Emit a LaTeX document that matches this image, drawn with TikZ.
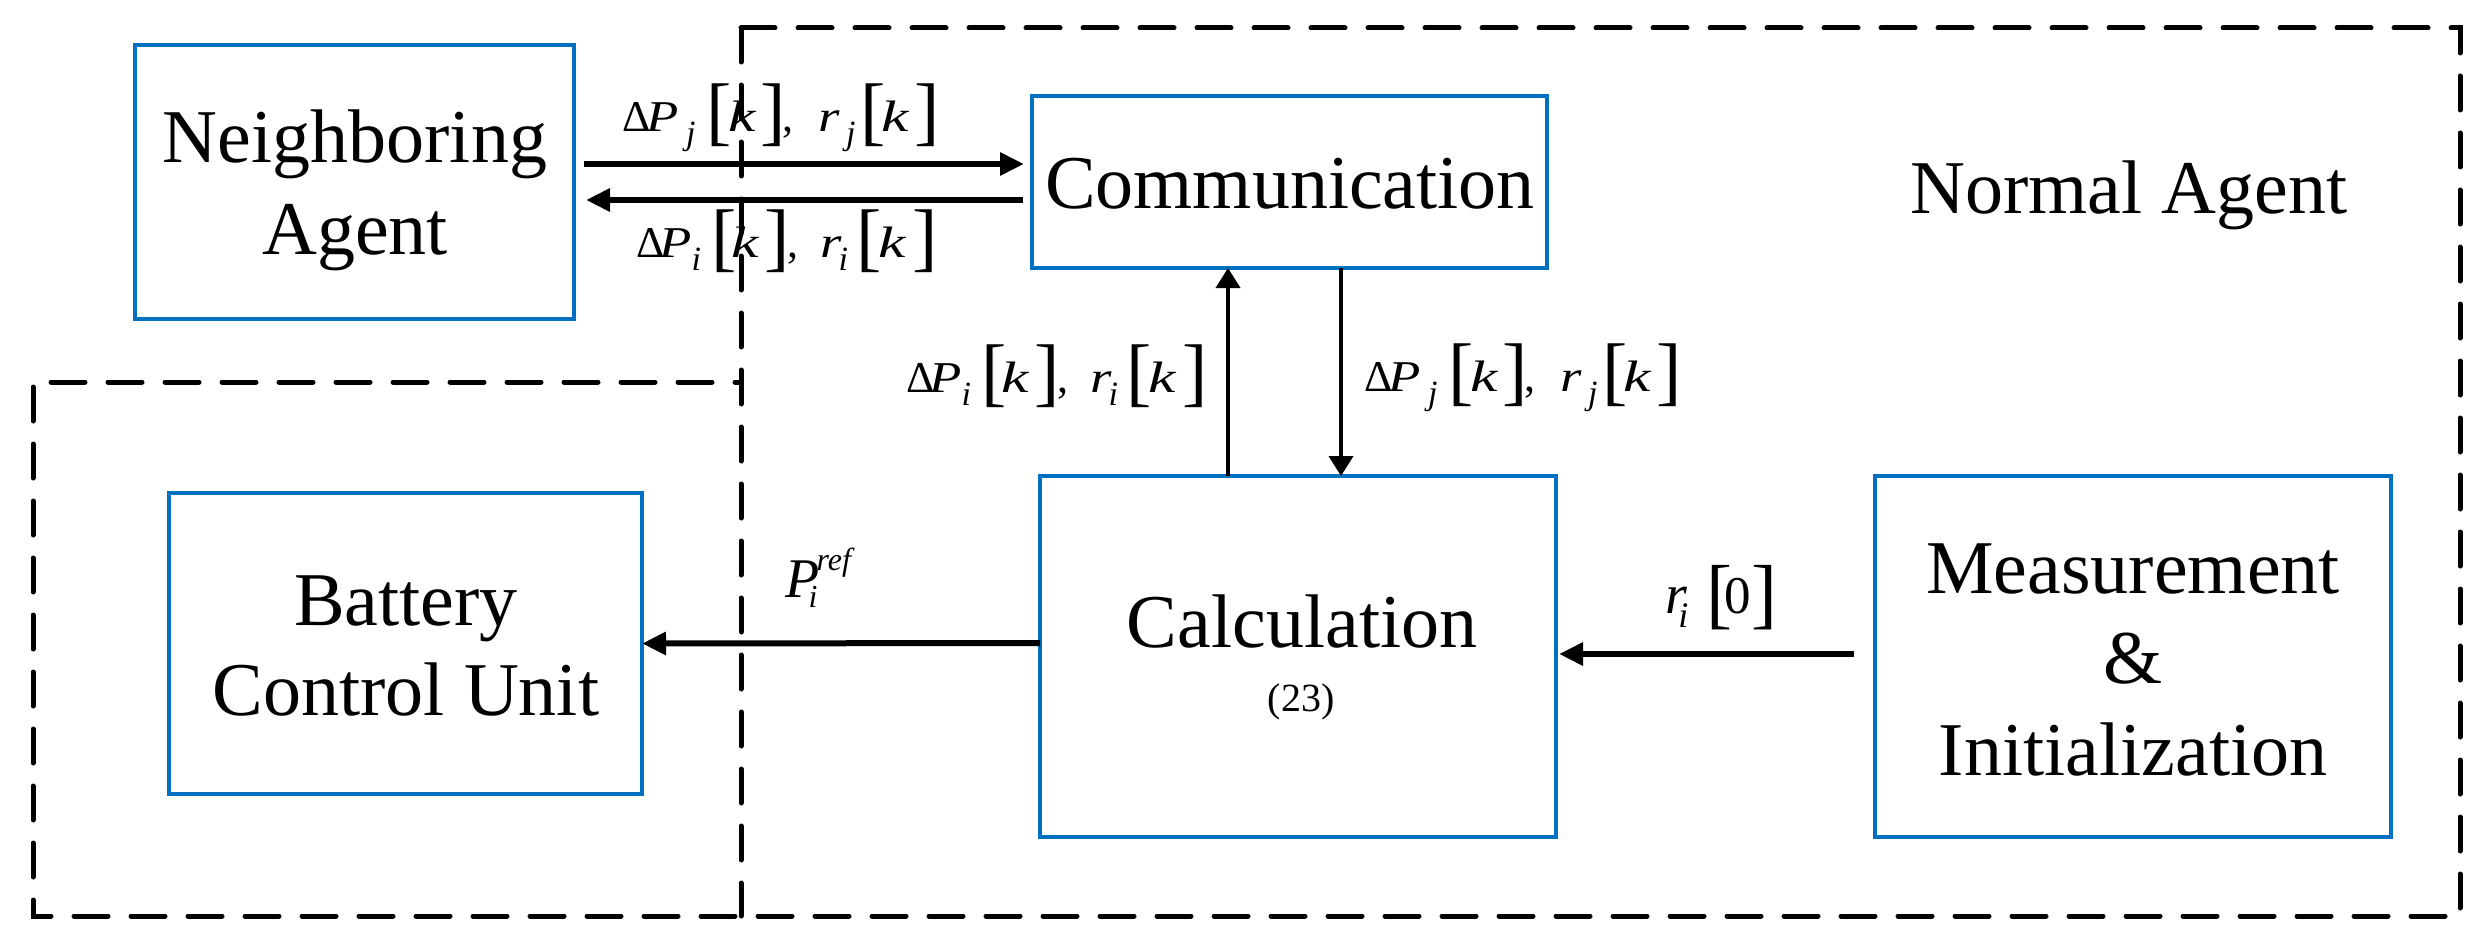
\documentclass[tikz,border=0pt]{standalone}
\usepackage{fontspec}
\setmainfont{Liberation Serif}
\usetikzlibrary{arrows.meta}
\definecolor{boxblue}{RGB}{0,112,192}
\newcommand\at[2]{\rlap{\hspace*{#1pt}#2}}
\newcommand\fm{\fontsize{44}{44}\selectfont}
\newcommand\KK{\scalebox{1.4}[1]{\fontsize{44}{44}\selectfont\itshape k}}
\newcommand\PP{\scalebox{1.2}[1]{\fm\itshape P}}
\newcommand\RR{\scalebox{1.25}[1]{\fm\itshape r}}
\newcommand\fss{\fontsize{34}{34}\selectfont\itshape}
\newcommand\fbr{\fontsize{76}{76}\selectfont}
\newcommand\LB{\raisebox{-5pt}{\fbr[}}
\newcommand\RB{\raisebox{-5pt}{\fbr]}}
\newcommand\SB[1]{\raisebox{-13pt}{\fss #1}}
\newcommand\LabJ{\at{0}{\fm Δ}\at{24}{\PP}\at{64}{\SB{j}}\at{84}{\LB}\at{106}{\KK}\at{138.4}{\RB}\at{160.4}{\fm ,}\at{195.8}{\RR}\at{224}{\SB{j}}\at{238.3}{\LB}\at{259}{\KK}\at{292.4}{\RB}\hspace*{318pt}}
\newcommand\LabI{\at{0}{\fm Δ}\at{23}{\PP}\at{55.3}{\SB{i}}\at{75.3}{\LB}\at{95}{\KK}\at{128.4}{\RB}\at{151.4}{\fm ,}\at{183.8}{\RR}\at{202.3}{\SB{i}}\at{220.3}{\LB}\at{242}{\KK}\at{276.4}{\RB}\hspace*{302pt}}
\newcommand\LabRef{\at{0}{\fontsize{56}{56}\selectfont\itshape P}\at{31.5}{\raisebox{27pt}{\fontsize{32}{32}\selectfont\itshape ref}}\at{23.4}{\raisebox{-10pt}{\fontsize{32}{32}\selectfont\itshape i}}\hspace*{75pt}}
\newcommand\LabR{\at{0}{\fontsize{56}{56}\selectfont\itshape r}\at{12.7}{\raisebox{-14pt}{\fontsize{36}{36}\selectfont\itshape i}}\at{41}{\raisebox{-6.6pt}{\fontsize{78}{78}\selectfont[}}\at{58.5}{\fontsize{53}{53}\selectfont 0}\at{85.5}{\raisebox{-6.6pt}{\fontsize{78}{78}\selectfont]}}\hspace*{112pt}}
\tikzset{
  blockbox/.style={draw=boxblue, line width=4pt, inner sep=0pt, outer sep=0pt},
  boxtext/.style={anchor=base, inner sep=0pt, font=\fontsize{76}{91}\selectfont},
  lbl/.style={anchor=base west, inner sep=0pt},
  dashframe/.style={draw=black, line width=5pt, line cap=round, dash pattern=on 34pt off 23pt},
  harrow/.style={draw=black, line width=6pt, -{Triangle[length=24pt,width=22pt]}},
  varrow/.style={draw=black, line width=4pt, -{Triangle[length=20pt,width=24pt]}}
}
\begin{document}
\begin{tikzpicture}[x=1pt,y=-1pt]
\useasboundingbox (0,0) rectangle (2491,952);
% dashed frames
\draw[dashframe] (741,28) -- (2460,28) -- (2460,916) -- (33,916) -- (33,382) -- (741,382);
\draw[dashframe] (741,28) -- (741,916);
% blocks
\node[blockbox, minimum width=439pt, minimum height=274pt] (nb) at (354.5,182) {};
\node[blockbox, minimum width=515pt, minimum height=172pt] (comm) at (1289.5,182) {};
\node[blockbox, minimum width=516pt, minimum height=361pt] (calc) at (1298,656.5) {};
\node[blockbox, minimum width=516pt, minimum height=361pt] (meas) at (2133,656.5) {};
\node[blockbox, minimum width=473pt, minimum height=301pt] (bcu) at (405.5,643.5) {};
% block texts
\node[boxtext] (nbt1) at (355,163) {Neighboring};
\node[boxtext] (nbt2) at (355,254) {Agent};
\node[boxtext] (commt) at (1290,208) {Communication};
\node[boxtext] (normal) at (2129,213) {Normal Agent};
\node[boxtext] (bcut1) at (406,625) {Battery};
\node[boxtext] (bcut2) at (406,715) {Control Unit};
\node[boxtext] (calct1) at (1302,647) {Calculation};
\node[boxtext, font=\fontsize{40}{48}\selectfont] (calct2) at (1301,711) {(23)};
\node[boxtext] (meast1) at (2133,593) {Measurement};
\node[boxtext] (meast2) at (2133,683) {\&};
\node[boxtext] (meast3) at (2133,775) {Initialization};
% connectors
\draw[harrow] ([shift={(10,-18)}]nb.east) -- ([shift={(-8,-18)}]comm.west);
\draw[harrow] ([shift={(-9,18)}]comm.west) -- ([shift={(12,18)}]nb.east);
\draw[varrow] ([xshift=-70pt]calc.north) -- ([xshift=-61.5pt]comm.south);
\draw[varrow] ([xshift=51.5pt]comm.south) -- ([xshift=43pt]calc.north);
\draw[harrow] ([yshift=13.5pt]calc.west) -- (bcu.east);
\draw[harrow] ([shift={(-21,-2.5)}]meas.west) -- ([shift={(3,-2.5)}]calc.east);
% connector labels
\node[lbl] (l1) at (622,132) {\LabJ};
\node[lbl] (l2) at (636,257) {\LabI};
\node[lbl] (l3) at (906,392) {\LabI};
\node[lbl] (l4) at (1364,391) {\LabJ};
\node[lbl] (l5) at (785,597) {\LabRef};
\node[lbl] (l6) at (1665.5,613) {\LabR};
\end{tikzpicture}
\end{document}
